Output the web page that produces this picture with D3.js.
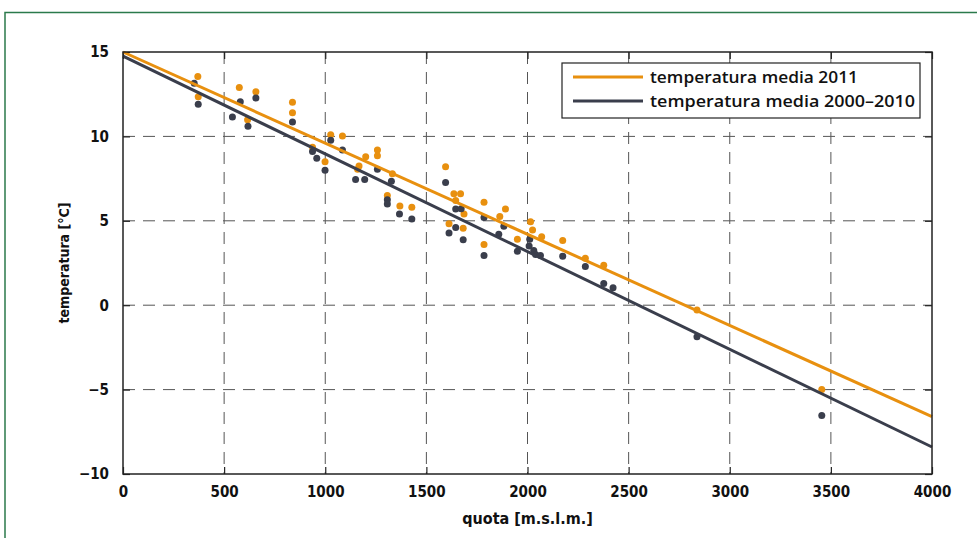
<!DOCTYPE html>
<html>
<head>
<meta charset="utf-8">
<script src="https://cdn.jsdelivr.net/npm/d3@7"></script>
<style>
  body { margin: 0; background: #fff; }
  svg { display: block; }
  .lbl { font-family: "Liberation Sans Narrow", "DejaVu Sans Condensed", "DejaVu Sans", sans-serif; font-stretch: condensed; font-weight: bold; fill: #111; }
  .leg { font-family: "Open Sans", "DejaVu Sans", sans-serif; font-weight: 600; fill: #111; }
</style>
</head>
<body>
<svg id="chart" width="977" height="538"></svg>
<script>
// quota [m s.l.m.] and temperature, 2011
var quota2011 = [370, 372, 575, 616, 657, 838, 838, 937, 999, 1027, 1085, 1160, 1167, 1200, 1258, 1258, 1307, 1332,
  1369, 1428, 1595, 1612, 1636, 1645, 1669, 1682, 1686, 1785, 1785, 1863, 1891, 1950, 2015, 2025, 2070, 2174, 2286, 2377, 2838, 3455];
var temp2011 = [13.55, 12.35, 12.9, 10.98, 12.65, 12.03, 11.4, 9.35, 8.5, 10.1, 10.02, 8.05, 8.25, 8.8, 9.2, 8.85, 6.5, 7.78,
  5.88, 5.8, 8.2, 4.82, 6.6, 6.2, 6.6, 4.56, 5.41, 6.1, 3.6, 5.25, 5.7, 3.9, 4.95, 4.45, 4.05, 3.83, 2.78, 2.36, -0.29, -5.0];

// 2000-2010 mean
var quotaMean = [352, 372, 541, 580, 618, 657, 838, 937, 958, 999, 1027, 1085, 1150, 1195, 1258, 1307, 1307, 1327, 1367, 1428,
  1595, 1612, 1645, 1645, 1672, 1682, 1785, 1785, 1858, 1883, 1950, 2008, 2011, 2031, 2040, 2064, 2174, 2286, 2377, 2423, 2838, 3455];
var tempMean = [13.15, 11.9, 11.15, 12.05, 10.6, 12.27, 10.85, 9.1, 8.7, 8.0, 9.77, 9.2, 7.45, 7.45, 8.05, 6.25, 6.0, 7.35, 5.4, 5.1,
  7.27, 4.27, 5.7, 4.6, 5.72, 3.87, 5.2, 2.95, 4.2, 4.68, 3.2, 3.5, 3.9, 3.24, 3.0, 2.95, 2.9, 2.3, 1.28, 1.04, -1.87, -6.54];

// regression lines: [quota start, quota end], [temp start, temp end]
var fitQuota = [0, 4000];
var fit2011 = [15.0, -6.6];
var fitMean = [14.75, -8.4];

var xTicks = [0, 500, 1000, 1500, 2000, 2500, 3000, 3500, 4000];
var yTicks = [-10, -5, 0, 5, 10, 15];
var legendLabels = ["temperatura media 2011", "temperatura media 2000\u20132010"];

var orange = "#e8900f", dark = "#3a3e4c";

var svg = d3.select("#chart");

// green frame
svg.append("path").attr("d", "M5,538 V12.5 H977")
  .attr("fill", "none").attr("stroke", "#2b7a4b").attr("stroke-width", 1.5);

var pL = 123, pR = 932, pT = 52, pB = 474;
var x = d3.scaleLinear().domain([0, 4000]).range([pL, pR]);
var y = d3.scaleLinear().domain([-10, 15]).range([pB, pT]);

// grid
var grid = svg.append("g").attr("stroke", "#555").attr("stroke-width", 1).attr("stroke-dasharray", "12,8");
grid.selectAll("line.v").data(xTicks.slice(1, -1)).join("line")
  .attr("x1", d => x(d)).attr("x2", d => x(d)).attr("y1", pT).attr("y2", pB);
grid.selectAll("line.h").data(yTicks.slice(1, -1)).join("line")
  .attr("y1", d => y(d)).attr("y2", d => y(d)).attr("x1", pL).attr("x2", pR);

// axes with inward ticks
var tk = 7;
svg.append("g").attr("transform", "translate(0," + pB + ")")
  .call(d3.axisBottom(x).tickValues(xTicks).tickSize(-tk).tickPadding(12).tickFormat(d3.format("d")));
svg.append("g").attr("transform", "translate(0," + pT + ")")
  .call(d3.axisTop(x).tickValues(xTicks).tickSize(-tk).tickFormat(""));
svg.append("g").attr("transform", "translate(" + pL + ",0)")
  .call(d3.axisLeft(y).tickValues(yTicks).tickSize(-tk).tickPadding(14).tickFormat(d => d < 0 ? "\u2212" + (-d) : d));
svg.append("g").attr("transform", "translate(" + pR + ",0)")
  .call(d3.axisRight(y).tickValues(yTicks).tickSize(-tk).tickFormat(""));

svg.selectAll(".domain").remove();
svg.selectAll(".tick line").attr("stroke", "#222").attr("stroke-width", 1.2);
svg.selectAll(".tick text").attr("class", "lbl").attr("font-size", 15).attr("font-family", null);

// points
function drawPoints(qs, ts, color) {
  svg.append("g").selectAll("circle").data(qs).join("circle")
    .attr("cx", d => x(d)).attr("cy", (d, i) => y(ts[i])).attr("r", 3.5).attr("fill", color);
}
drawPoints(quota2011, temp2011, orange);
drawPoints(quotaMean, tempMean, dark);

// fit lines
var line = d3.line().x(d => x(d[0])).y(d => y(d[1]));
svg.append("path").datum(fitQuota.map((q, i) => [q, fit2011[i]]))
  .attr("d", line).attr("stroke", orange).attr("stroke-width", 3).attr("fill", "none");
svg.append("path").datum(fitQuota.map((q, i) => [q, fitMean[i]]))
  .attr("d", line).attr("stroke", dark).attr("stroke-width", 3).attr("fill", "none");

// plot frame
svg.append("rect").attr("x", pL).attr("y", pT).attr("width", pR - pL).attr("height", pB - pT)
  .attr("fill", "none").attr("stroke", "#222").attr("stroke-width", 1.5);

// axis titles
svg.append("text").attr("class", "lbl").attr("x", (pL + pR) / 2).attr("y", 524)
  .attr("text-anchor", "middle").attr("font-size", 16).text("quota [m.s.l.m.]");
svg.append("text").attr("class", "lbl").attr("transform", "translate(69," + ((pT + pB) / 2) + ") rotate(-90)")
  .attr("text-anchor", "middle").attr("font-size", 14).text("temperatura [\u00b0C]");

// legend
var lg = svg.append("g");
lg.append("rect").attr("x", 562).attr("y", 63).attr("width", 358).attr("height", 55)
  .attr("fill", "#fff").attr("stroke", "#222").attr("stroke-width", 1.2);
[orange, dark].forEach(function(c, i) {
  var yy = 77 + i * 24;
  lg.append("line").attr("x1", 573).attr("x2", 643).attr("y1", yy).attr("y2", yy)
    .attr("stroke", c).attr("stroke-width", 3);
  lg.append("text").attr("class", "leg").attr("x", 650).attr("y", yy + 6)
    .attr("font-size", 17).attr("textLength", i === 0 ? 208 : 265).attr("lengthAdjust", "spacingAndGlyphs")
    .text(legendLabels[i]);
});
</script>
</body>
</html>
